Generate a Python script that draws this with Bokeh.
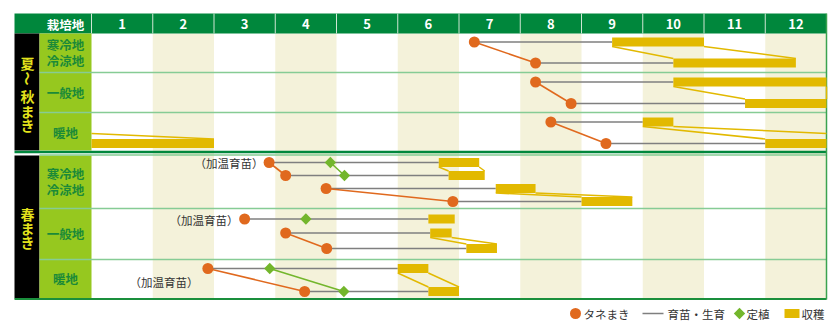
import math
from bokeh.plotting import figure
from bokeh.models import Range1d
from bokeh.embed import file_html
from bokeh.resources import INLINE
from bokeh.core.properties import value

# ---------------- data ----------------
months = ["1", "2", "3", "4", "5", "6", "7", "8", "9", "10", "11", "12"]
header_label = "栽培地"
section_labels = ["夏～秋まき", "春まき"]
region_labels = [["寒冷地", "冷涼地"], ["一般地"], ["暖地"]]
heated_label = "（加温育苗）"

# summer-autumn sowing (month value: 1.0 = start of Jan, 13.0 = end of Dec)
su_sow = [7.25, 8.25, 8.25, 8.83, 8.5, 9.4]
su_h_start = [9.5, 10.5, 10.5, 11.67, 10.0, 12.0]
su_h_end = [11.0, 12.5, 13.0, 13.0, 10.5, 15.0]   # 15.0 = end of Feb next year
su_pairs = [(0, 1), (2, 3), (4, 5)]

# spring sowing
sp_sow = [3.9, 4.17, 4.83, 6.9, 3.5, 4.17, 4.84, 2.9, 4.48]
sp_plant = [4.9, 5.13, None, None, 4.5, None, None, 3.91, 5.12]
sp_h_start = [6.67, 6.83, 7.6, 9.0, 6.5, 6.53, 7.12, 6.0, 6.5]
sp_h_end = [7.33, 7.42, 8.25, 9.83, 6.93, 6.88, 7.62, 6.5, 7.0]
sp_pairs = [(0, 1), (2, 3), (5, 6), (7, 8)]
sp_heated = [0, 4, 7]

legend_labels = ["タネまき", "育苗・生育", "定植", "収穫"]

# ---------------- layout / style ----------------
W, H = 840, 333
PX0, PXW = 91.0, 61.25
def X(px):
    return 1 + (px - PX0) / PXW

FONT = "Noto Sans CJK JP"
DKGREEN = "#00873c"
LTGREEN = "#96c81f"
LABGREEN = "#1b8a38"
ROWLINE = "#86cc95"
BEIGE = "#f4f2da"
ORANGE = "#e0691e"
GRAY = "#7f7f7f"
YELLOW = "#e2b900"
DGREEN2 = "#73b62c"
TXT = "#333333"
BH = 9.0

su_y = [41.5, 62.5, 81.5, 103.0, 121.5, 143.0]
sp_y = [162.0, 175.0, 188.0, 201.0, 218.5, 232.5, 248.0, 268.0, 291.0]

p = figure(width=W, height=H, x_range=Range1d(X(0), X(W)), y_range=Range1d(H, 0),
           output_backend="svg", toolbar_location=None, min_border=0,
           x_axis_type=None, y_axis_type=None, outline_line_color=None)
p.background_fill_color = "white"
p.border_fill_color = "white"

# beige even-month columns
ev = [m for m in range(2, 13, 2)]
p.quad(left=ev, right=[m + 1 for m in ev], top=[33] * len(ev), bottom=[298] * len(ev),
       fill_color=BEIGE, line_color=None)

# header
p.quad(left=[X(14)], right=[13.0], top=[13], bottom=[33], fill_color=DKGREEN, line_color=None)
p.multi_line([[m, m] for m in range(1, 13)], [[13, 33]] * 12, line_color="#cfe6d3", line_width=1)
p.text(x=[m + 0.5 for m in range(1, 13)], y=[23.5] * 12, text=months,
       text_font=value(FONT), text_font_style="bold", text_font_size="13px",
       text_color="white", text_align="center", text_baseline="middle")
p.text(x=[X(65)], y=[23.5], text=[header_label], text_font=value(FONT), text_font_style="bold",
       text_font_size="12.5px", text_color="white", text_align="center", text_baseline="middle")

# left columns
p.quad(left=[X(14), X(14)], right=[X(39), X(39)], top=[33, 155], bottom=[150, 298],
       fill_color="black", line_color=None)
p.quad(left=[X(39), X(39)], right=[1.0, 1.0], top=[33, 155], bottom=[150, 298],
       fill_color=LTGREEN, line_color=None)

# section separator
p.line([X(14), 13.0], [151.5, 151.5], line_color=DKGREEN, line_width=2.5)
p.line([X(39), 13.0], [154.5, 154.5], line_color=ROWLINE, line_width=1.5)
# row separators
for yy in [72, 112, 208, 259]:
    p.line([X(39), 13.0], [yy, yy], line_color=ROWLINE, line_width=1.5)
# bottom + right border
p.line([X(14), 13.0], [298.5, 298.5], line_color="#1a8f3c", line_width=2)
p.line([13.0, 13.0], [13, 299], line_color="#3aa34f", line_width=1.5)

# vertical section labels
def vtext(chars, ys):
    for ch, yy in zip(chars, ys):
        ang = -math.pi / 2 if ch == "～" else 0
        p.text(x=[X(27)], y=[yy], text=[ch], angle=ang, text_font=value(FONT),
               text_font_style="bold", text_font_size="14px", text_color="#e3e31c",
               text_align="center", text_baseline="middle")
vtext(list(section_labels[0]), [62, 78, 95, 110, 124])
vtext(list(section_labels[1]), [213, 227, 241])

# region labels
reg_pos = [[[44, 60], [92], [132]], [[173, 189], [233], [278]]]
for sec in range(2):
    for r, labs in enumerate(region_labels):
        for lab, yy in zip(labs, reg_pos[sec][r]):
            p.text(x=[X(65)], y=[yy], text=[lab], text_font=value(FONT), text_font_style="bold",
                   text_font_size="12.5px", text_color=LABGREEN, text_align="center",
                   text_baseline="middle")

# ---------------- marks ----------------
def wrap_seg(x0, y0, x1, y1):
    if x1 <= 13.0:
        return [([x0, x1], [y0, y1])]
    t = (13.0 - x0) / (x1 - x0)
    ym = y0 + t * (y1 - y0)
    return [([x0, 13.0], [y0, ym]), ([1.0, x1 - 12], [ym, y1])]

def draw(sow, plant, hs, he, ys, pairs):
    # growth lines
    p.multi_line([[s, h] for s, h in zip(sow, hs)], [[y, y] for y in ys],
                 line_color=GRAY, line_width=1.6)
    # harvest outlines
    oxs, oys = [], []
    for i, j in pairs:
        for a, b in [(hs[i], hs[j]), (he[i], he[j])]:
            for sx, sy in wrap_seg(a, ys[i] + BH / 2, b, ys[j] - BH / 2):
                oxs.append(sx); oys.append(sy)
    p.multi_line(oxs, oys, line_color=YELLOW, line_width=1.5)
    # harvest bars
    L, R, T, B = [], [], [], []
    for a, b, y in zip(hs, he, ys):
        segs = [(a, b)] if b <= 13 else [(a, 13.0), (1.0, b - 12)]
        for l, r in segs:
            L.append(l); R.append(r); T.append(y - BH / 2); B.append(y + BH / 2)
    p.quad(left=L, right=R, top=T, bottom=B, fill_color=YELLOW, line_color=None)
    # links
    for i, j in pairs:
        p.line([sow[i], sow[j]], [ys[i], ys[j]], line_color=ORANGE, line_width=1.6)
        if plant[i] is not None and plant[j] is not None:
            p.line([plant[i], plant[j]], [ys[i], ys[j]], line_color=DGREEN2, line_width=1.6)
    # markers
    p.scatter(x=sow, y=ys, marker="circle", size=11, fill_color=ORANGE, line_color=None)
    px = [v for v in plant if v is not None]
    py = [y for v, y in zip(plant, ys) if v is not None]
    if px:
        p.scatter(x=px, y=py, marker="square", angle=math.pi / 4, size=8,
                  fill_color=DGREEN2, line_color=None)

draw(su_sow, [None] * len(su_sow), su_h_start, su_h_end, su_y, su_pairs)
draw(sp_sow, sp_plant, sp_h_start, sp_h_end, sp_y, sp_pairs)

# heated seedling labels
heat_pos = [(263, 162.5), (238, 219), (198, 281)]
for (hx, hy) in heat_pos:
    p.text(x=[X(hx)], y=[hy], text=[heated_label], text_font=value(FONT),
           text_font_size="11.5px", text_color=TXT, text_align="right", text_baseline="middle")

# legend
LY = 313
p.scatter(x=[X(575)], y=[LY], marker="circle", size=11, fill_color=ORANGE, line_color=None)
p.line([X(642), X(663)], [LY, LY], line_color=GRAY, line_width=1.5)
p.scatter(x=[X(739)], y=[LY], marker="square", angle=math.pi / 4, size=8,
          fill_color=DGREEN2, line_color=None)
p.quad(left=[X(784)], right=[X(799)], top=[LY - 4.5], bottom=[LY + 4.5],
       fill_color=YELLOW, line_color=None)
p.text(x=[X(583), X(667), X(746), X(801)], y=[LY] * 4, text=legend_labels,
       text_font=value(FONT), text_font_size="11.5px", text_color=TXT,
       text_align="left", text_baseline="middle")

open("out.html", "w").write(file_html(p, INLINE))
